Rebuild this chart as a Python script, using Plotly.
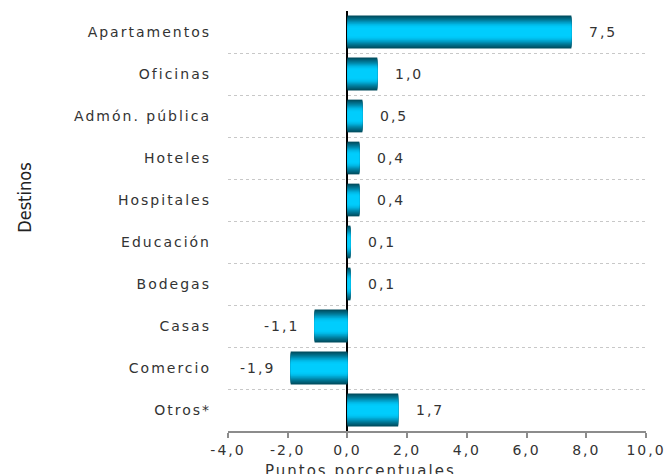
import plotly.graph_objects as go

categories = ["Apartamentos", "Oficinas", "Admón. pública", "Hoteles", "Hospitales",
              "Educación", "Bodegas", "Casas", "Comercio", "Otros*"]
values = [7.5, 1.0, 0.5, 0.4, 0.4, 0.1, 0.1, -1.1, -1.9, 1.7]
x_tick_vals = [-4, -2, 0, 2, 4, 6, 8, 10]
x_tick_text = ["-4,0", "-2,0", "0,0", "2,0", "4,0", "6,0", "8,0", "10,0"]

LS = "letter-spacing:2px"
def sp(t):
    return f'<span style="{LS}">{t}</span>'

FONT = "DejaVu Sans"
TXT = "#333333"

# gradient layers: (width, color) from outer dark edge to bright centre
layers = [
    (0.78, "#004c5e"),
    (0.74, "#00566a"),
    (0.70, "#006078"),
    (0.66, "#006b86"),
    (0.61, "#007795"),
    (0.56, "#0084a6"),
    (0.51, "#0092b8"),
    (0.46, "#00a1ca"),
    (0.41, "#00b0dc"),
    (0.36, "#00bdeb"),
    (0.30, "#00c7f6"),
    (0.22, "#00cdfd"),
]

fig = go.Figure()
for w, c in layers:
    fig.add_trace(go.Bar(
        x=values, y=categories, orientation="h",
        width=w, marker=dict(color=c, line=dict(width=0)),
        hoverinfo="skip", showlegend=False,
    ))

for cat, v in zip(categories, values):
    label = f"{v:.1f}".replace(".", ",")
    fig.add_annotation(
        x=v, y=cat, xref="x", yref="y", text=sp(label), showarrow=False,
        xanchor="left" if v >= 0 else "right",
        xshift=16 if v >= 0 else -14,
        font=dict(family=FONT, size=14, color=TXT),
    )

fig.add_annotation(
    x=-0.486, y=0.555, xref="paper", yref="paper", text="Destinos",
    textangle=-90, showarrow=False, xanchor="center", yanchor="middle",
    font=dict(family="Liberation Sans Narrow, DejaVu Sans Condensed, Liberation Sans, sans-serif", size=18, color="#222222"),
)
fig.add_annotation(
    x=0.318, y=-0.07, xref="paper", yref="paper", text=sp("Puntos porcentuales"),
    showarrow=False, xanchor="center", yanchor="top",
    font=dict(family=FONT, size=15, color=TXT),
)

fig.update_layout(
    width=665, height=474,
    margin=dict(l=228, r=19, t=11, b=43),
    barmode="overlay",
    paper_bgcolor="white", plot_bgcolor="white",
    font=dict(family=FONT, size=14, color=TXT),
    showlegend=False,
)
fig.update_xaxes(
    range=[-4, 10], tickvals=x_tick_vals, ticktext=[sp(t) for t in x_tick_text],
    automargin=False, ticklabeloverflow="allow",
    showgrid=False, zeroline=True, zerolinecolor="#000000", zerolinewidth=1.5,
    showline=True, linecolor="#8c8c8c", linewidth=1.5,
    ticks="outside", ticklen=5, tickcolor="#8c8c8c", tickwidth=1.5,
    tickfont=dict(family=FONT, size=14, color=TXT),
)
fig.update_yaxes(
    type="category", autorange="reversed", automargin=False,
    tickvals=categories, ticktext=[sp(c) for c in categories],
    tickson="boundaries", showgrid=True, gridcolor="#c8c8c8", griddash="dot", gridwidth=1,
    ticks="", showline=False, zeroline=False,
    ticklabelstandoff=16,
    tickfont=dict(family=FONT, size=14, color=TXT),
)

fig.write_html(
    "out.html",
    config={"displayModeBar": False},
    post_script="document.body.style.margin='0px'; document.body.style.overflow='hidden';",
)
